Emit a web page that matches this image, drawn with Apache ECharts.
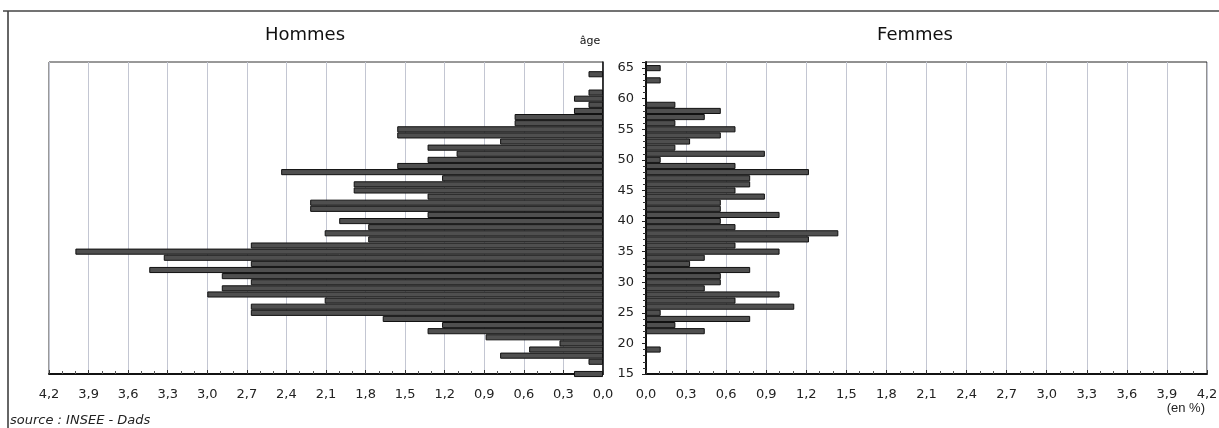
<!DOCTYPE html>
<html><head><meta charset="utf-8">
<script src="https://cdn.jsdelivr.net/npm/echarts/dist/echarts.min.js"></script>
<style>html,body{margin:0;padding:0;background:#fff}#c{width:1219px;height:428px}</style>
</head><body><div id="c"></div>
<script>
// ages (categories)
const ages = [15,16,17,18,19,20,21,22,23,24,25,26,27,28,29,30,31,32,33,34,35,36,37,38,39,40,
  41,42,43,44,45,46,47,48,49,50,51,52,53,54,55,56,57,58,59,60,61,62,63,64,65];
// Hommes (% by age)
const hommes = [0.22,0,0.11,0.78,0.56,0.33,0.89,1.33,1.22,1.67,
  2.67,2.67,2.11,3.0,2.89,2.67,2.89,3.44,2.67,3.33,
  4.0,2.67,1.78,2.11,1.78,2.0,1.33,2.22,2.22,1.33,
  1.89,1.89,1.22,2.44,1.56,1.33,1.11,1.33,0.78,1.56,
  1.56,0.67,0.67,0.22,0.11,0.22,0.11,0,0,0.11,0];
// Femmes (% by age)
const femmes = [0,0,0,0,0.11,0,0,0.44,0.22,0.78,
  0.11,1.11,0.67,1.0,0.44,0.56,0.56,0.78,0.33,0.44,
  1.0,0.67,1.22,1.44,0.67,0.56,1.0,0.56,0.56,0.89,
  0.67,0.78,0.78,1.22,0.67,0.11,0.89,0.22,0.33,0.56,
  0.67,0.22,0.44,0.56,0.22,0,0,0,0.11,0,0.11];
const titles = ['Hommes','âge','Femmes'];
const sourceText = 'source : INSEE - Dads';
const unitText = '(en %)';

const FONT = 'DejaVu Sans';
const fmt = v => v.toFixed(1).replace('.', ',');
const gridL = {left:49, right:616, top:62, bottom:54, show:true, borderColor:'#333', borderWidth:1, outerBoundsMode:'none'};
const gridR = {left:646, right:12, top:62, bottom:54, show:true, borderColor:'#222', borderWidth:1, outerBoundsMode:'none'};

function xAx(idx, inverse){
  return {type:'value', gridIndex:idx, min:0, max:4.2, interval:0.3, inverse:inverse,
    axisLine:{show:true, lineStyle:{color:'#111', width:2}},
    axisTick:{show:true, inside:true, length:4, lineStyle:{color:'#333'}},
    minorTick:{show:true, splitNumber:3, length:3, lineStyle:{color:'#555'}},
    axisLabel:{formatter:fmt, margin:14, fontFamily:FONT, fontSize:13, color:'#222'},
    splitLine:{show:true, lineStyle:{color:'#c3c6d2', width:1}}};
}
function catAx(idx, pos){
  return {type:'category', gridIndex:idx, data:ages, boundaryGap:false, max:ages.length, position:pos,
    axisLine:{show:true, lineStyle:{color:'#111', width:pos==='left'?2:1.5}},
    axisTick:{show:false}, axisLabel:{show:false}, splitLine:{show:false}};
}
const barStyle = {color:'#4f4f4f', borderColor:'#111', borderWidth:1};
const toData = arr => arr.map(v => v > 0 ? v : '-');

const option = {
  animation:false,
  grid:[gridL, gridR],
  xAxis:[xAx(0,true), xAx(1,false)],
  yAxis:[catAx(0,'right'), catAx(1,'left'),
    {type:'value', gridIndex:1, min:15, max:66, interval:5, position:'left',
     axisLine:{show:false},
     axisTick:{show:true, length:4, lineStyle:{color:'#222'}},
     minorTick:{show:true, splitNumber:5, length:3, lineStyle:{color:'#333'}},
     axisLabel:{showMaxLabel:false, formatter:v => (v % 5 === 0 && v <= 65) ? String(v) : '',
       margin:12, fontFamily:FONT, fontSize:13, color:'#222'},
     splitLine:{show:false}}],
  series:[
    {type:'bar', xAxisIndex:0, yAxisIndex:0, data:toData(hommes), barWidth:'100%', clip:false, itemStyle:barStyle, silent:true},
    {type:'bar', xAxisIndex:1, yAxisIndex:1, data:toData(femmes), barWidth:'100%', clip:false, itemStyle:barStyle, silent:true}
  ],
  graphic:[
    {type:'line', shape:{x1:8, y1:11, x2:8, y2:428}, style:{stroke:'#333', lineWidth:1.5}, silent:true},
    {type:'line', shape:{x1:3, y1:11, x2:1219, y2:11}, style:{stroke:'#444', lineWidth:1.5}, silent:true},
    {type:'text', x:305, y:35, style:{text:titles[0], fontFamily:FONT, fontSize:18, fill:'#111', align:'center', verticalAlign:'middle'}},
    {type:'text', x:590, y:41, style:{text:titles[1], fontFamily:FONT, fontSize:11, fill:'#111', align:'center', verticalAlign:'middle'}},
    {type:'text', x:915, y:35, style:{text:titles[2], fontFamily:FONT, fontSize:18, fill:'#111', align:'center', verticalAlign:'middle'}},
    {type:'text', x:10, y:414, style:{text:sourceText, fontFamily:FONT, fontStyle:'italic', fontSize:13, fill:'#222', align:'left', verticalAlign:'top'}},
    {type:'text', x:1205, y:408, style:{text:unitText, fontFamily:'Liberation Sans', fontSize:13, fill:'#222', align:'right', verticalAlign:'middle'}}
  ]
};
const chart = echarts.init(document.getElementById('c'), null, {renderer:'canvas'});
chart.setOption(option);
</script></body></html>
